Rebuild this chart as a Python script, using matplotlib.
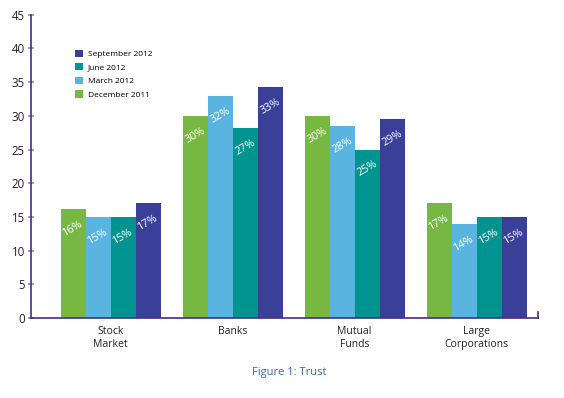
"""Grouped bar chart: trust by institution across four survey waves."""

import matplotlib

matplotlib.use("Agg")
import matplotlib.pyplot as plt
import numpy as np

plt.rcParams["font.family"] = ["Open Sans", "DejaVu Sans"]

categories = ["Stock\nMarket", "Banks", "Mutual\nFunds", "Large\nCorporations"]
series_names = ["December 2011", "March 2012", "June 2012", "September 2012"]
dec_2011 = [16.2, 30.0, 30.0, 17.1]
mar_2012 = [15.0, 33.0, 28.5, 14.0]
jun_2012 = [15.0, 28.2, 25.0, 15.0]
sep_2012 = [17.0, 34.3, 29.5, 15.0]
dec_labels = ["16%", "30%", "30%", "17%"]
mar_labels = ["15%", "32%", "28%", "14%"]
jun_labels = ["15%", "27%", "25%", "15%"]
sep_labels = ["17%", "33%", "29%", "15%"]

colors = ["#77b843", "#5ab4e0", "#009490", "#3a3f98"]
axis_purple = "#4b2a86"
tick_purple = "#9a86c0"

fig = plt.figure(figsize=(5.64, 3.98), dpi=100)
ax = fig.add_axes([0.055, 0.201, 0.899, 0.762])

x = np.arange(len(categories))
width = 0.205
values = [dec_2011, mar_2012, jun_2012, sep_2012]
labels = [dec_labels, mar_labels, jun_labels, sep_labels]

handles = []
for i, (name, vals, labs, color) in enumerate(zip(series_names, values, labels, colors)):
    pos = x + (i - 1.5) * width
    bars = ax.bar(pos, vals, width, color=color, label=name, zorder=2)
    handles.append(bars)
    for px, v, lab in zip(pos, vals, labs):
        ax.annotate(
            lab,
            xy=(px, v),
            xytext=(0, -14),
            textcoords="offset points",
            ha="center",
            va="center",
            rotation=30,
            color="white",
            fontsize=7.8,
            zorder=3,
        )

ax.set_xlim(-0.652, 3.504)
ax.set_ylim(0, 45)
ax.set_yticks(np.arange(0, 46, 5))
ax.set_xticks(x)
ax.set_xticklabels(categories, fontsize=7.5, color="#222222", linespacing=1.25)
ax.tick_params(axis="x", length=0, pad=6)
ax.tick_params(axis="y", direction="inout", length=5, width=1.2, color=tick_purple,
               labelsize=8.3, labelcolor="#222222", pad=2)

ax.spines["top"].set_visible(False)
for side in ["left", "bottom", "right"]:
    ax.spines[side].set_color(axis_purple)
    ax.spines[side].set_linewidth(1.2)
ax.spines["right"].set_bounds(0, 0.9)

# legend lists the latest wave first
leg = ax.legend(
    handles[::-1],
    series_names[::-1],
    loc="upper left",
    bbox_to_anchor=(0.072, 0.91),
    frameon=False,
    fontsize=6,
    handlelength=0.95,
    handleheight=0.95,
    handletextpad=0.55,
    labelspacing=0.62,
)

fig.text(0.512, 0.065, "Figure 1: Trust", ha="center", va="center",
         fontsize=8, color="#3f62a8")

plt.savefig("out.png", dpi=100)
plt.close()
